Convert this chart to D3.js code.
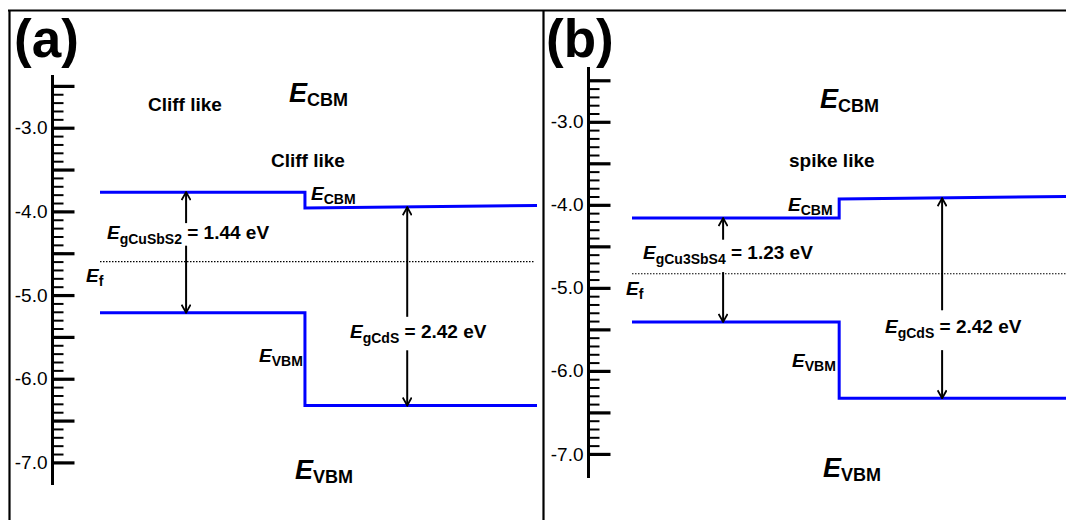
<!DOCTYPE html>
<html>
<head>
<meta charset="utf-8">
<script src="https://cdn.jsdelivr.net/npm/d3@7/dist/d3.min.js"></script>
<style>
  html, body { margin: 0; padding: 0; background: #fff; }
  svg { display: block; font-family: "Liberation Sans", Arial, sans-serif; }
</style>
</head>
<body>
<div id="chart"></div>
<script>
// ---- data (energies in eV, x in arbitrary position units 0..10) ----
const panelNames = ['(a)', '(b)'];
const absorbers = ['CuSbS2', 'Cu3SbS4'];
const gapValues = ['1.44', '1.23'];
const cdsGap = '2.42';
const interfaceTypes = ['Cliff like', 'spike like'];

const energyDomainA = [-2.37, -7.27];
const energyDomainB = [-2.34, -7.29];
const majorTicks = [-2.5, -3.0, -3.5, -4.0, -4.5, -5.0, -5.5, -6.0, -6.5, -7.0];
const labelTicks = [-3.0, -4.0, -5.0, -6.0, -7.0];

// band edges, panel (a)
const cbmA = [[0, -3.77], [4.69, -3.77], [4.69, -3.96], [10, -3.93]];
const vbmA = [[0, -5.21], [4.69, -5.21], [4.69, -6.32], [10, -6.32]];
const efA = [[0, -4.60], [9.95, -4.60]];
// band edges, panel (b)
const cbmB = [[0, -4.16], [4.73, -4.16], [4.73, -3.93], [10, -3.90]];
const vbmB = [[0, -5.41], [4.73, -5.41], [4.73, -6.33], [10, -6.33]];
const efB = [[0, -4.83], [10, -4.83]];

// gap arrows: x, top edge, bottom edge, label gap (top, bottom)
const arrowsA = [[1.97, -3.77, -5.21, -4.14, -4.41], [7.03, -3.95, -6.32, -5.26, -5.66]];
const arrowsB = [[2.08, -4.16, -5.41, -4.42, -4.81], [7.08, -3.92, -6.33, -5.27, -5.75]];

const width = 1066, height = 520;
const blue = '#0000ff';

const svg = d3.select('#chart').append('svg')
    .attr('width', width)
    .attr('height', height);

// arrowhead
svg.append('defs').append('marker')
    .attr('id', 'head')
    .attr('viewBox', '0 -5 10 10')
    .attr('refX', 9)
    .attr('refY', 0)
    .attr('markerWidth', 10)
    .attr('markerHeight', 10)
    .attr('markerUnits', 'userSpaceOnUse')
    .attr('orient', 'auto')
    .append('path')
    .attr('d', 'M1,-4.5 L9,0 L1,4.5')
    .attr('fill', 'none')
    .attr('stroke', '#000')
    .attr('stroke-width', 1.8);

// frame
svg.append('line').attr('x1', 8).attr('x2', width).attr('y1', 10.5).attr('y2', 10.5)
    .attr('stroke', '#000').attr('stroke-width', 2.2);
svg.append('line').attr('x1', 9.5).attr('x2', 9.5).attr('y1', 10).attr('y2', height)
    .attr('stroke', '#000').attr('stroke-width', 2.2);
svg.append('line').attr('x1', 543.5).attr('x2', 543.5).attr('y1', 10).attr('y2', height)
    .attr('stroke', '#000').attr('stroke-width', 2.2);

// E with subscript helper
function eLabel(g, x, y, sub, rest, sizeE, sizeSub, shift) {
    const t = g.append('text')
        .attr('x', x).attr('y', y)
        .attr('font-weight', 'bold')
        .attr('fill', '#000');
    t.append('tspan').attr('font-style', 'italic').attr('font-size', sizeE).text('E');
    t.append('tspan').attr('font-size', sizeSub).attr('dy', shift).text(sub);
    if (rest) t.append('tspan').attr('font-size', sizeE).attr('dy', -shift).text(rest);
    return t;
}

function drawPanel(opt) {
    const g = svg.append('g');
    const x = d3.scaleLinear().domain([0, 10]).range(opt.xRange);
    const y = d3.scaleLinear().domain(opt.domain).range(opt.yRange);

    // axis line
    g.append('line')
        .attr('x1', opt.axisX).attr('x2', opt.axisX)
        .attr('y1', y(opt.domain[0])).attr('y2', y(opt.domain[1]))
        .attr('stroke', '#000').attr('stroke-width', 3);

    // minor ticks every 0.1 eV
    const minor = d3.range(-25, -71, -1).map(d => d / 10);
    const minorAxis = g.append('g')
        .attr('transform', `translate(${opt.axisX},0)`)
        .call(d3.axisRight(y).tickValues(minor).tickSize(11).tickFormat(''));
    minorAxis.select('.domain').remove();
    minorAxis.selectAll('line').attr('stroke-width', 2);

    const majorAxis = g.append('g')
        .attr('transform', `translate(${opt.axisX},0)`)
        .call(d3.axisRight(y).tickValues(majorTicks).tickSize(22).tickFormat(''));
    majorAxis.select('.domain').remove();
    majorAxis.selectAll('line').attr('stroke-width', 3.2);

    const labelAxis = g.append('g')
        .attr('transform', `translate(${opt.axisX - 1},0)`)
        .call(d3.axisLeft(y).tickValues(labelTicks).tickSize(0).tickPadding(4)
            .tickFormat(d => d.toFixed(1)));
    labelAxis.select('.domain').remove();
    labelAxis.selectAll('text')
        .attr('font-size', 19)
        .attr('font-family', '"Liberation Sans", Arial, sans-serif')
        .attr('fill', '#000');

    const line = d3.line().x(d => x(d[0])).y(d => y(d[1]));

    // Fermi level
    g.append('path').attr('d', line(opt.ef))
        .attr('fill', 'none').attr('stroke', '#000')
        .attr('stroke-width', 1.2).attr('stroke-dasharray', '1.5,1.5');

    // band edges
    [opt.cbm, opt.vbm].forEach(b => {
        g.append('path').attr('d', line(b))
            .attr('fill', 'none').attr('stroke', blue)
            .attr('stroke-width', 3);
    });

    // gap arrows
    opt.arrows.forEach(a => {
        g.append('line')
            .attr('x1', x(a[0])).attr('x2', x(a[0]))
            .attr('y1', y(a[3])).attr('y2', y(a[1]))
            .attr('stroke', '#000').attr('stroke-width', 2)
            .attr('marker-end', 'url(#head)');
        g.append('line')
            .attr('x1', x(a[0])).attr('x2', x(a[0]))
            .attr('y1', y(a[4])).attr('y2', y(a[2]))
            .attr('stroke', '#000').attr('stroke-width', 2)
            .attr('marker-end', 'url(#head)');
    });

    // panel tag
    g.append('text')
        .attr('x', opt.tag[0]).attr('y', opt.tag[1])
        .attr('font-size', 53).attr('font-weight', 'bold')
        .text(opt.name);

    // interface type labels
    opt.types.forEach(t => {
        g.append('text')
            .attr('x', t[0]).attr('y', t[1])
            .attr('font-size', 19).attr('font-weight', 'bold')
            .text(t[2]);
    });

    const L = opt.labels;
    eLabel(g, L.cbmBig[0], L.cbmBig[1], 'CBM', null, 27, 18, 4);
    eLabel(g, L.vbmBig[0], L.vbmBig[1], 'VBM', null, 27, 18, 4);
    eLabel(g, L.cbm[0], L.cbm[1], 'CBM', null, 19, 14, 4);
    eLabel(g, L.vbm[0], L.vbm[1], 'VBM', null, 19, 14, 4);
    eLabel(g, L.ef[0], L.ef[1], 'f', null, 19, 14, 4);
    eLabel(g, L.gap1[0], L.gap1[1], 'g' + opt.absorber, ' = ' + opt.gap + ' eV', 19, 14, 5);
    eLabel(g, L.gap2[0], L.gap2[1], 'gCdS', ' = ' + cdsGap + ' eV', 19, 14, 5);
}

drawPanel({
    name: panelNames[0], absorber: absorbers[0], gap: gapValues[0],
    xRange: [100, 537], yRange: [75, 485], domain: energyDomainA, axisX: 52.5,
    cbm: cbmA, vbm: vbmA, ef: efA, arrows: arrowsA,
    tag: [14, 57],
    types: [[148, 111, interfaceTypes[0]], [271, 167, interfaceTypes[0]]],
    labels: {
        cbmBig: [289, 102], vbmBig: [295, 479],
        cbm: [311, 200], vbm: [259, 362], ef: [86, 282],
        gap1: [107, 239], gap2: [350, 338]
    }
});

drawPanel({
    name: panelNames[1], absorber: absorbers[1], gap: gapValues[1],
    xRange: [632, 1070], yRange: [67, 478], domain: energyDomainB, axisX: 588.5,
    cbm: cbmB, vbm: vbmB, ef: efB, arrows: arrowsB,
    tag: [546, 57],
    types: [[789, 167, interfaceTypes[1]]],
    labels: {
        cbmBig: [820, 108], vbmBig: [823, 477],
        cbm: [788, 211], vbm: [792, 367], ef: [626, 295],
        gap1: [643, 259], gap2: [885, 333]
    }
});
</script>
</body>
</html>
